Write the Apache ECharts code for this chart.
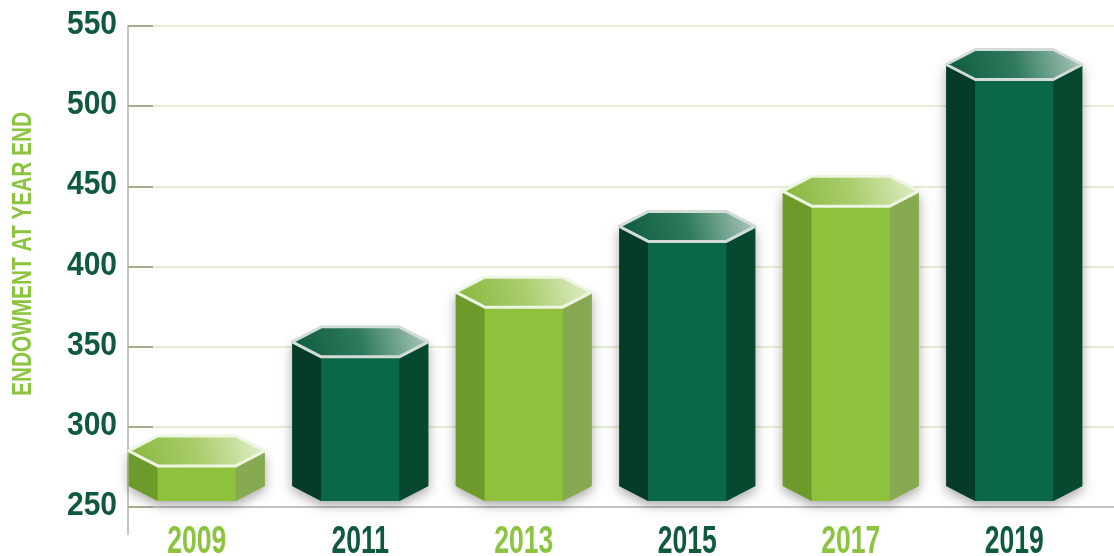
<!DOCTYPE html>
<html>
<head>
<meta charset="utf-8">
<title>Endowment at Year End</title>
<script src="https://cdn.jsdelivr.net/npm/echarts@6/dist/echarts.min.js"></script>
<style>
  html, body { margin: 0; padding: 0; background: #ffffff; }
  #chart { width: 1114px; height: 556px; }
</style>
</head>
<body>
<div id="chart"></div>
<script>
// Year-end endowment figures
const years = ['2009', '2011', '2013', '2015', '2017', '2019'];
const endowment = [285, 353, 384, 425, 447, 526];
const yTicks = [250, 300, 350, 400, 450, 500, 550];
const axisTitle = 'ENDOWMENT AT YEAR END';

const FONT_FAMILY = '"Liberation Sans", Arial, sans-serif';
const DARK_TEXT = '#0f5a3b';
const LIGHT_TEXT = '#8cc43f';

// Condensed look: measure text in the regular face, then squeeze horizontally
const measureCtx = document.createElement('canvas').getContext('2d');
function squeeze(text, size, targetWidth) {
  measureCtx.font = 'bold ' + size + 'px ' + FONT_FAMILY;
  return targetWidth / measureCtx.measureText(text).width;
}
const YEAR_SIZE = 39, TICK_SIZE = 33, TITLE_SIZE = 28;
const yearScale = squeeze('2009', YEAR_SIZE, 59);
const tickScale = squeeze('250', TICK_SIZE, 50);
const titleScale = squeeze(axisTitle, TITLE_SIZE, 284);

// Colour sets for the two alternating prism tones
const TONES = {
  light: {
    left: '#6c9a2b', front: '#8ec13c', right: '#87a951',
    top: ['#86b63a', '#a9cd6c', '#e4f0cd'], rim: '#eef5e2', text: LIGHT_TEXT
  },
  dark: {
    left: '#053b28', front: '#0a6846', right: '#06492f',
    top: ['#0b593c', '#2f7a5d', '#b4cec1'], rim: '#d3dcd6', text: DARK_TEXT
  }
};

function hexPrism(params, api) {
  const idx = api.value(0);
  const val = api.value(1);
  const top = api.coord([idx, val]);
  const base = api.coord([idx, yTicks[0]]);
  const tone = idx % 2 === 0 ? TONES.light : TONES.dark;

  const W = 136, s = 29, d = 15;
  const xc = top[0];
  const yt = top[1];
  const yb = base[1] - 21;
  const xl = xc - W / 2, xr = xc + W / 2;
  const xfl = xl + s, xfr = xr - s;

  const hexTop = [[xl, yt], [xfl, yt - d], [xfr, yt - d], [xr, yt], [xfr, yt + d], [xfl, yt + d]];

  return {
    type: 'group',
    children: [
      { // soft ground shadow
        type: 'polygon',
        shape: { points: [[xl, yt], [xr, yt], [xr, yb], [xfr, yb + d], [xfl, yb + d], [xl, yb]] },
        style: { fill: tone.front, shadowBlur: 12, shadowOffsetY: 4, shadowColor: 'rgba(0,0,0,0.35)' }
      },
      {
        type: 'polygon',
        shape: { points: [[xl, yt], [xfl, yt + d], [xfl, yb + d], [xl, yb]] },
        style: { fill: tone.left }
      },
      {
        type: 'polygon',
        shape: { points: [[xfl, yt + d], [xfr, yt + d], [xfr, yb + d], [xfl, yb + d]] },
        style: { fill: tone.front }
      },
      {
        type: 'polygon',
        shape: { points: [[xfr, yt + d], [xr, yt], [xr, yb], [xfr, yb + d]] },
        style: { fill: tone.right }
      },
      {
        type: 'polygon',
        shape: { points: hexTop },
        style: {
          fill: new echarts.graphic.LinearGradient(0, 1, 1, 0, [
            { offset: 0, color: tone.top[0] },
            { offset: 0.5, color: tone.top[1] },
            { offset: 1, color: tone.top[2] }
          ]),
          stroke: tone.rim,
          lineWidth: 3,
          lineJoin: 'round'
        }
      },
      { // year label under the prism
        type: 'text',
        x: xc,
        y: base[1] + 35,
        scaleX: yearScale,
        style: {
          text: years[idx],
          align: 'center',
          verticalAlign: 'middle',
          fontFamily: FONT_FAMILY,
          fontWeight: 'bold',
          fontSize: YEAR_SIZE,
          fill: tone.text
        }
      }
    ]
  };
}

function tickLabel(params, api) {
  const p = api.coord([0, api.value(1)]);
  return {
    type: 'text',
    x: p[0] - 11,
    y: p[1] - 1,
    scaleX: tickScale,
    style: {
      text: String(api.value(1)),
      align: 'right',
      verticalAlign: 'middle',
      fontFamily: FONT_FAMILY,
      fontWeight: 'bold',
      fontSize: TICK_SIZE,
      fill: DARK_TEXT
    }
  };
}

const chart = echarts.init(document.getElementById('chart'), null, { renderer: 'canvas' });

chart.setOption({
  animation: false,
  backgroundColor: '#ffffff',
  grid: [
    { left: 115, right: 18, top: 26, bottom: 49 },
    { left: 128, right: 0, top: 26, bottom: 49 }
  ],
  xAxis: [
    {
      type: 'category',
      gridIndex: 0,
      data: years,
      axisLine: { show: false },
      axisTick: { show: false },
      axisLabel: { show: false }
    },
    { type: 'value', gridIndex: 1, min: 0, max: 1, show: false }
  ],
  yAxis: [
    { type: 'value', gridIndex: 0, min: 250, max: 550, interval: 50, show: false },
    {
      type: 'value',
      gridIndex: 1,
      min: yTicks[0],
      max: yTicks[yTicks.length - 1],
      interval: 50,
      axisLine: { show: true, lineStyle: { color: '#b5b5a8', width: 1.5 } },
      axisTick: { show: true, inside: true, length: 25, lineStyle: { color: '#a9aa92', width: 2 } },
      axisLabel: { show: false },
      splitLine: {
        show: true,
        lineStyle: {
          color: ['#b0b0b0', '#dce9c3', '#dce9c3', '#dce9c3', '#dce9c3', '#dce9c3', '#dce9c3'],
          width: 1.6
        }
      }
    }
  ],
  series: [
    {
      type: 'custom',
      xAxisIndex: 0,
      yAxisIndex: 0,
      renderItem: hexPrism,
      data: endowment.map((v, i) => [i, v]),
      clip: false,
      z: 5
    },
    {
      type: 'custom',
      xAxisIndex: 1,
      yAxisIndex: 1,
      renderItem: tickLabel,
      data: yTicks.map(t => [0, t]),
      clip: false,
      silent: true,
      z: 4
    }
  ]
});

// Axis title and the short run of the vertical axis below the baseline
const axisX = chart.convertToPixel({ gridIndex: 1 }, [0, yTicks[0]])[0];
const baseY = chart.convertToPixel({ yAxisIndex: 1 }, yTicks[0]);
chart.setOption({
  graphic: [
    {
      type: 'line',
      shape: { x1: axisX, y1: baseY, x2: axisX, y2: baseY + 28 },
      style: { stroke: '#b5b5a8', lineWidth: 1.5 },
      z: 1
    },
    {
      type: 'text',
      x: 23,
      y: 254,
      rotation: Math.PI / 2,
      scaleX: titleScale,
      style: {
        text: axisTitle,
        align: 'center',
        verticalAlign: 'middle',
        fontFamily: FONT_FAMILY,
        fontWeight: 'bold',
        fontSize: TITLE_SIZE,
        fill: LIGHT_TEXT
      }
    }
  ]
});
</script>
</body>
</html>
